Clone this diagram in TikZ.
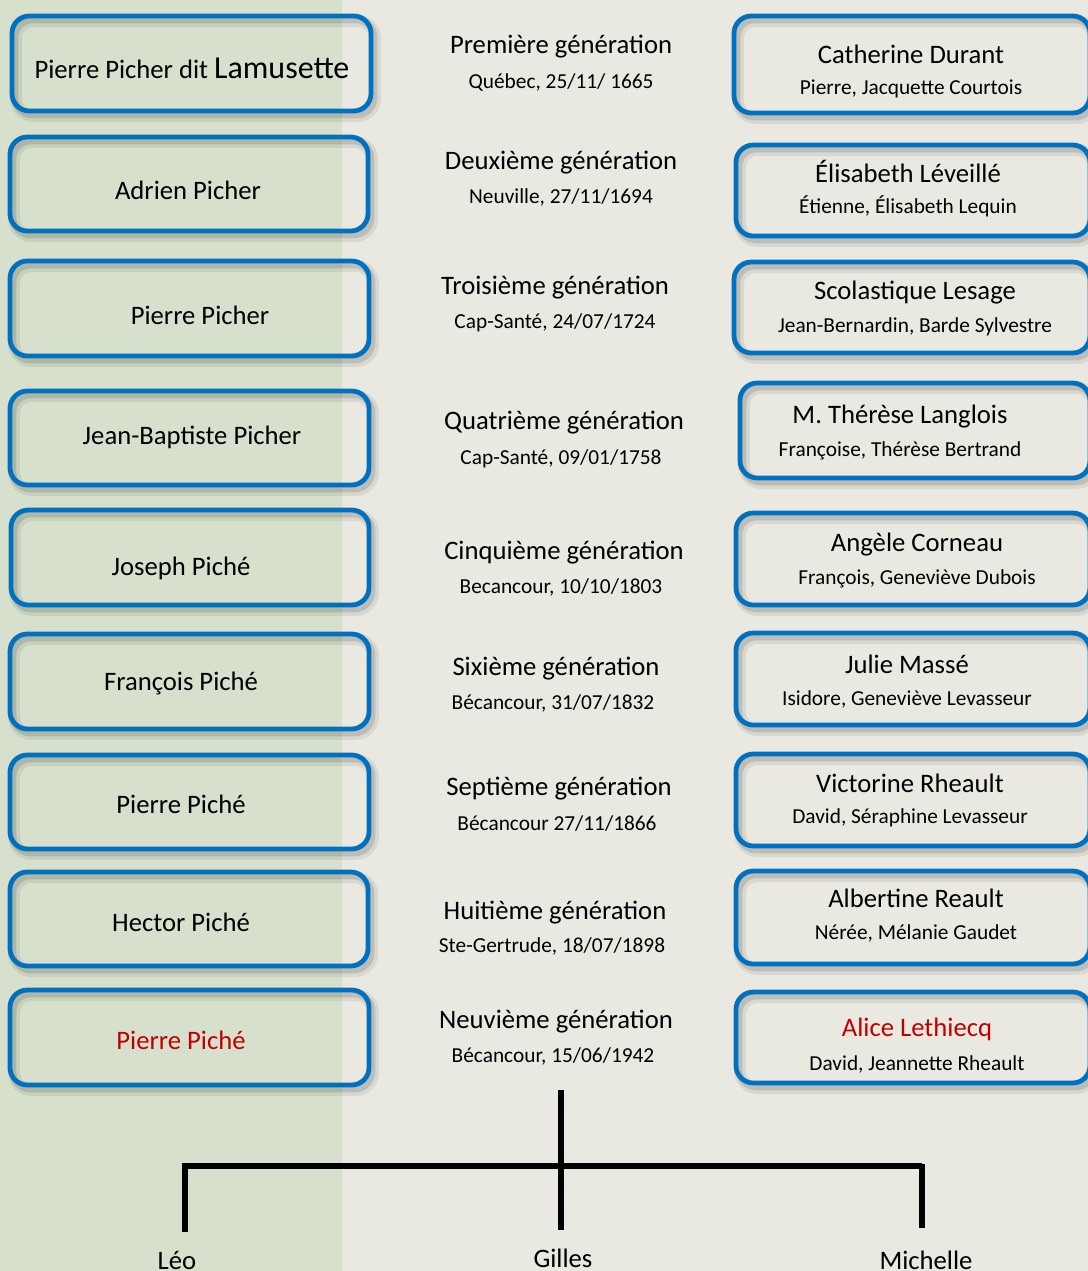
\documentclass[tikz,border=0pt]{standalone}
\usepackage{fontspec}
\setmainfont{Carlito}
\usetikzlibrary{fit}
\definecolor{bgGreen}{RGB}{215,224,204}
\definecolor{bgGrey}{RGB}{233,233,225}
\definecolor{boxBlue}{RGB}{0,112,192}
\definecolor{nameRed}{RGB}{192,0,0}
\tikzset{
  famillebox/.style={draw=boxBlue, line width=3.6pt, rounded corners=13pt, inner sep=0pt},
  shadowA/.style={draw=black, opacity=0.07, line width=9pt, rounded corners=13pt},
  shadowB/.style={draw=black, opacity=0.12, line width=5pt, rounded corners=13pt},
  big/.style={font=\fontsize{20}{22}\selectfont, text=black, inner sep=0pt, yshift=-1.6pt},
  small/.style={font=\fontsize{16}{18}\selectfont, text=black, inner sep=0pt, yshift=-1.6pt},
  redname/.style={text=nameRed},
  tree/.style={line width=3.8pt, draw=black},
}
\newcommand\famBox[5]{%
  \draw[shadowA] (#2+4,#3+5) rectangle (#4+4,#5+5);
  \draw[shadowB] (#2+3,#3+4) rectangle (#4+3,#5+4);
  \node[famillebox, fit={(#2,#3) (#4,#5)}] (#1) {};
}
\begin{document}
\begin{tikzpicture}[x=0.75pt, y=-0.75pt]
\useasboundingbox (0,0) rectangle (1088,1271);
\clip (0,0) rectangle (1088,1271);
\fill[bgGrey] (0,0) rectangle (1088,1271);
\fill[bgGreen] (0,0) rectangle (342,1271);

% left boxes
\famBox{L1}{12}{16}{371}{111}
\famBox{L2}{10}{137}{368}{231}
\famBox{L3}{10}{261}{369}{356}
\famBox{L4}{10}{391}{369}{485}
\famBox{L5}{11}{510}{369}{605}
\famBox{L6}{10}{634}{369}{729}
\famBox{L7}{10}{755}{369}{849}
\famBox{L8}{10}{872}{368}{966}
\famBox{L9}{10}{990}{369}{1085}
% right boxes
\famBox{R1}{734}{16}{1090}{113}
\famBox{R2}{736}{145}{1090}{236}
\famBox{R3}{734}{262}{1090}{353}
\famBox{R4}{740}{383}{1090}{478}
\famBox{R5}{736}{513}{1090}{605}
\famBox{R6}{736}{633}{1090}{725}
\famBox{R7}{736}{754}{1090}{846}
\famBox{R8}{736}{871}{1090}{964}
\famBox{R9}{736}{992}{1090}{1083}

% left names
\node[big] (n1) at (192,66) {\fontsize{20}{22}\selectfont Pierre Picher dit \fontsize{24}{26}\selectfont Lamusette};
\node[big] (n2) at (188,188) {Adrien Picher};
\node[big] (n3) at (200,313) {Pierre Picher};
\node[big] (n4) at (192,435) {Jean-Baptiste Picher};
\node[big] (n5) at (181,566) {Joseph Piché};
\node[big] (n6) at (181,681) {François Piché};
\node[big] (n7) at (181,802) {Pierre Piché};
\node[big] (n8) at (181,920) {Hector Piché};
\node[big, redname] (n9) at (181,1038) {Pierre Piché};

% generations
\node[big] (g1) at (561,44) {Première génération};
\node[small] (d1) at (561,80) {Québec, 25/11/ 1665};
\node[big] (g2) at (561,160) {Deuxième génération};
\node[small] (d2) at (561,195) {Neuville, 27/11/1694};
\node[big] (g3) at (555,285) {Troisième génération};
\node[small] (d3) at (555,321) {Cap-Santé, 24/07/1724};
\node[big] (g4) at (564,420) {Quatrième génération};
\node[small] (d4) at (561,457) {Cap-Santé, 09/01/1758};
\node[big] (g5) at (564,550) {Cinquième génération};
\node[small] (d5) at (561,585) {Becancour, 10/10/1803};
\node[big] (g6) at (556,666) {Sixième génération};
\node[small] (d6) at (553,701) {Bécancour, 31/07/1832};
\node[big] (g7) at (559,786) {Septième génération};
\node[small] (d7) at (557,821) {Bécancour 27/11/1866};
\node[big] (g8) at (555,910) {Huitième génération};
\node[small] (d8) at (552,944) {Ste-Gertrude, 18/07/1898};
\node[big] (g9) at (556,1019) {Neuvième génération};
\node[small] (d9) at (553,1054) {Bécancour, 15/06/1942};

% spouses
\node[big] (s1) at (911,52) {Catherine Durant};
\node[small] (p1) at (911,87) {Pierre, Jacquette Courtois};
\node[big] (s2) at (908,169) {Élisabeth Léveillé};
\node[small] (p2) at (908,204) {Étienne, Élisabeth Lequin};
\node[big] (s3) at (915,290) {Scolastique Lesage};
\node[small] (p3) at (915,325) {Jean-Bernardin, Barde Sylvestre};
\node[big] (s4) at (900,414) {M. Thérèse Langlois};
\node[small] (p4) at (900,449) {Françoise, Thérèse Bertrand};
\node[big] (s5) at (917,542) {Angèle Corneau};
\node[small] (p5) at (917,577) {François, Geneviève Dubois};
\node[big] (s6) at (907,662) {Julie Massé};
\node[small] (p6) at (907,697) {Isidore, Geneviève Levasseur};
\node[big] (s7) at (910,781) {Victorine Rheault};
\node[small] (p7) at (910,816) {David, Séraphine Levasseur};
\node[big] (s8) at (916,896) {Albertine Reault};
\node[small] (p8) at (916,931) {Nérée, Mélanie Gaudet};
\node[big, redname] (s9) at (917,1027) {Alice Lethiecq};
\node[small] (p9) at (917,1062) {David, Jeannette Rheault};

% children
\node[big, anchor=base] (leo) at (177,1267) {Léo};
\node[big, anchor=base] (gilles) at (563,1265) {Gilles};
\node[big, anchor=base] (michelle) at (926,1267) {Michelle};

% tree
\coordinate (trunkTop) at (561,1090);
\coordinate (bar) at (561,1166);
\coordinate (barL) at (182,1166);
\coordinate (barR) at (922,1166);
\coordinate (dropL) at (185,1232);
\coordinate (dropM) at (561,1230);
\coordinate (dropR) at (922,1228);
\draw[tree] (trunkTop) -- (dropM);
\draw[tree] (barL) -- (barR);
\draw[tree] (185,1164) -- (dropL);
\draw[tree] (922,1164) -- (dropR);
\end{tikzpicture}
\end{document}
